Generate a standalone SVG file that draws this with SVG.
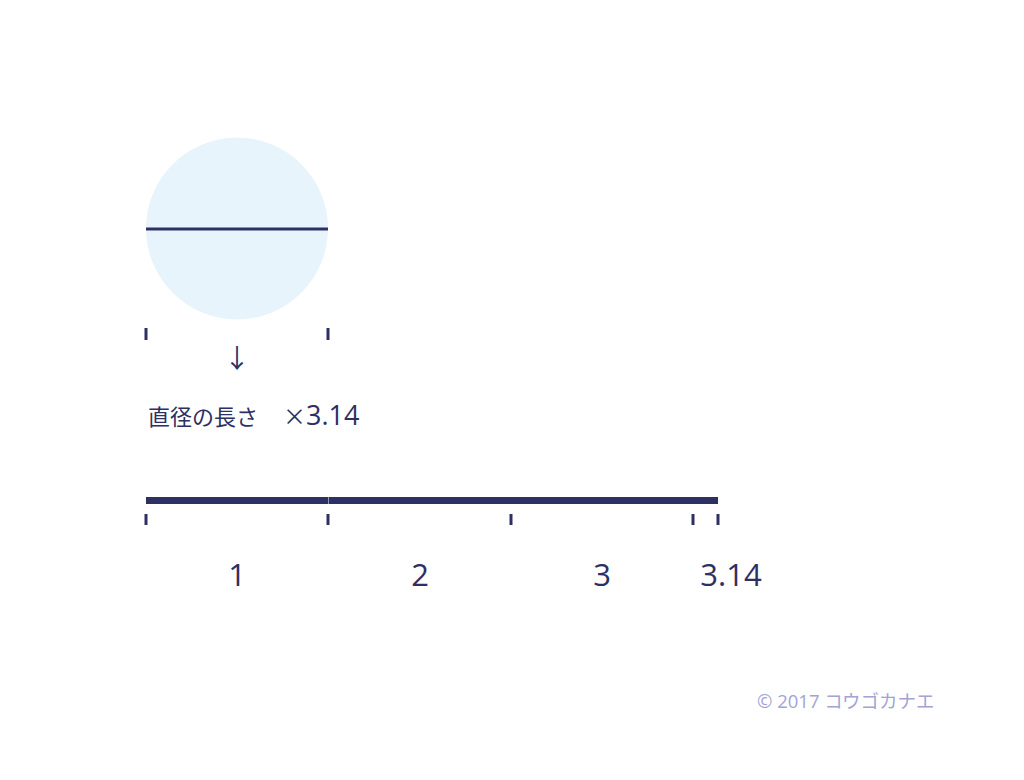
<svg xmlns="http://www.w3.org/2000/svg" width="1024" height="780" viewBox="0 0 1024 780">
<style>
.ink{stroke:#2e2f63;fill:none}
.tick{stroke:#2e2f63;stroke-width:3;fill:none}
.lbl{font-family:"Open Sans","Noto Sans CJK JP",sans-serif;fill:#2e2f63}
.jp{font-family:"Noto Sans CJK JP",sans-serif;fill:#2e2f63}
.num{font-family:"Open Sans","Noto Sans",sans-serif;fill:#2e2f63;font-size:31px;text-anchor:middle}
</style>
<rect width="1024" height="780" fill="#ffffff"/>
<g id="circle">
<circle cx="237" cy="228.5" r="91" fill="#e8f4fc"/>
<line class="ink" x1="146" y1="229" x2="328" y2="229" stroke-width="3"/>
</g>
<g id="diameter-ticks">
<line class="tick" x1="146" y1="328" x2="146" y2="340"/>
<line class="tick" x1="328" y1="328" x2="328" y2="340"/>
</g>
<g id="arrow">
<text class="lbl" x="237" y="368" font-size="26" text-anchor="middle">↓</text>
</g>
<g id="caption">
<text class="jp" x="148" y="425" font-size="22">直径の長さ</text>
<text class="jp" x="283" y="425" font-size="23">×</text>
<text class="lbl" x="306" y="425" font-size="27">3.14</text>
</g>
<g id="bar">
<rect x="146" y="497" width="182" height="7" fill="#2e2f63"/>
<rect x="328.5" y="497" width="389.5" height="7" fill="#2e2f63"/>
<line class="tick" x1="146" y1="514" x2="146" y2="525"/>
<line class="tick" x1="328" y1="514" x2="328" y2="525"/>
<line class="tick" x1="511" y1="514" x2="511" y2="525"/>
<line class="tick" x1="693" y1="514" x2="693" y2="525"/>
<line class="tick" x1="718" y1="514" x2="718" y2="525"/>
</g>
<g id="labels">
<text class="num" x="237" y="586">1</text>
<text class="num" x="420" y="586">2</text>
<text class="num" x="602" y="586">3</text>
<text class="num" x="731" y="586">3.14</text>
</g>
<g id="copyright">
<text class="lbl" x="757" y="708" font-size="18.5" style="fill:#a3a3d6">© 2017 コウゴカナエ</text>
</g>
</svg>
